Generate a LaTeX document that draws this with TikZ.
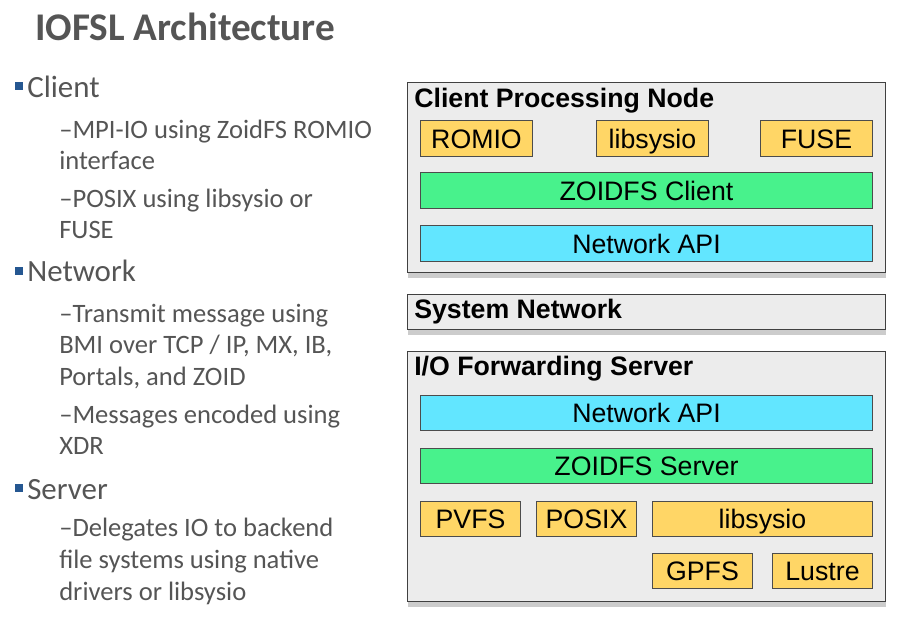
\documentclass[tikz,border=0pt]{standalone}
\usepackage{fontspec}
\setmainfont{Carlito}
\newfontfamily\diagfont{Liberation Sans}
\usetikzlibrary{positioning,shadows,calc}
\definecolor{slidegray}{RGB}{85,85,85}
\definecolor{bulletblue}{RGB}{37,87,145}
\definecolor{panelgray}{RGB}{236,236,236}
\definecolor{libbox}{RGB}{255,214,102}
\definecolor{zoidfs}{RGB}{72,242,140}
\definecolor{netapi}{RGB}{98,230,255}
\newcommand{\px}{0.25mm}
\tikzset{
  slidetitle/.style={anchor=base west, inner sep=0pt, text=slidegray, font=\bfseries\fontsize{27.9}{32}\selectfont},
  topic/.style={anchor=base west, inner sep=0pt, text=slidegray, font=\fontsize{22}{26}\selectfont},
  detail/.style={anchor=base west, inner sep=0pt, text=slidegray, font=\fontsize{18.9}{22}\selectfont},
  panel/.style={draw=black!75, fill=panelgray, line width=1pt, anchor=north west, inner sep=0pt,
    drop shadow={shadow xshift=0pt, shadow yshift=-3.5pt, opacity=0.4}},
  panelhead/.style={anchor=base west, inner sep=0pt, font=\diagfont\bfseries\fontsize{19}{22}\selectfont},
  layer/.style={draw=black!70, line width=0.7pt, anchor=north west, inner sep=0pt,
    text height=13.6pt, text depth=0pt, font=\diagfont\fontsize{19}{22}\selectfont},
  lib/.style={layer, fill=libbox},
  zoid/.style={layer, fill=zoidfs},
  api/.style={layer, fill=netapi}
}
\begin{document}
\begin{tikzpicture}[x=\px, y=-\px]
    \useasboundingbox (0,0) rectangle (905,622);

    % Titre
    \node[slidetitle] (title) at (35,40) {IOFSL Architecture};

    % Liste a gauche
    \fill[bulletblue] (15,82) rectangle (23,90);
    \node[topic] (client) at (27,97) {Client};
    \node[detail] (client1a) at (59,138) {–MPI-IO using ZoidFS ROMIO};
    \node[detail] (client1b) at (59,169.5) {interface};
    \node[detail] (client2a) at (59,207) {–POSIX using libsysio or};
    \node[detail] (client2b) at (59,238.5) {FUSE};

    \fill[bulletblue] (15,266.5) rectangle (23,274.5);
    \node[topic] (network) at (27,281.7) {Network};
    \node[detail] (net1a) at (59,322.7) {–Transmit message using};
    \node[detail] (net1b) at (59,353.3) {BMI over TCP / IP, MX, IB,};
    \node[detail] (net1c) at (59,385) {Portals, and ZOID};
    \node[detail] (net2a) at (59,423.3) {–Messages encoded using};
    \node[detail] (net2b) at (59,454) {XDR};

    \fill[bulletblue] (15,484) rectangle (23,492);
    \node[topic] (server) at (27,499.3) {Server};
    \node[detail] (srv1a) at (59,536.7) {–Delegates IO to backend};
    \node[detail] (srv1b) at (59,568.3) {file systems using native};
    \node[detail] (srv1c) at (59,600) {drivers or libsysio};

    % Noeud client
    \node[panel, minimum width=478*\px, minimum height=190*\px] (cpn) at (407,82) {};
    \node[panelhead] (cpnhead) at (414,107) {Client Processing Node};
    \node[lib, minimum width=112*\px, minimum height=36*\px] (romio) at (420,120) {ROMIO};
    \node[lib, minimum width=112*\px, minimum height=36*\px] (clib) at (596,120) {libsysio};
    \node[lib, minimum width=112*\px, minimum height=36*\px] (fuse) at (760,120) {FUSE};
    \node[zoid, minimum width=452*\px, minimum height=36*\px] (zclient) at (420,172) {ZOIDFS Client};
    \node[api, minimum width=452*\px, minimum height=36*\px] (capi) at (420,225) {Network API};

    % Reseau
    \node[panel, minimum width=478*\px, minimum height=35*\px] (sysnet) at (407,294) {};
    \node[panelhead] (sysnethead) at (414,318.3) {System Network};

    % Serveur
    \node[panel, minimum width=478*\px, minimum height=250*\px] (iofs) at (407,351) {};
    \node[panelhead] (iofshead) at (414,375) {I/O Forwarding Server};
    \node[api, minimum width=452*\px, minimum height=35*\px] (sapi) at (420,395) {Network API};
    \node[zoid, minimum width=452*\px, minimum height=35*\px] (zserver) at (420,448) {ZOIDFS Server};
    \node[lib, minimum width=100*\px, minimum height=35*\px] (pvfs) at (420,501) {PVFS};
    \node[lib, minimum width=100*\px, minimum height=35*\px] (posix) at (536,501) {POSIX};
    \node[lib, minimum width=220*\px, minimum height=35*\px] (slib) at (652,501) {libsysio};
    \node[lib, minimum width=100*\px, minimum height=35*\px] (gpfs) at (652,553) {GPFS};
    \node[lib, minimum width=100*\px, minimum height=35*\px] (lustre) at (772,553) {Lustre};

\end{tikzpicture}
\end{document}
